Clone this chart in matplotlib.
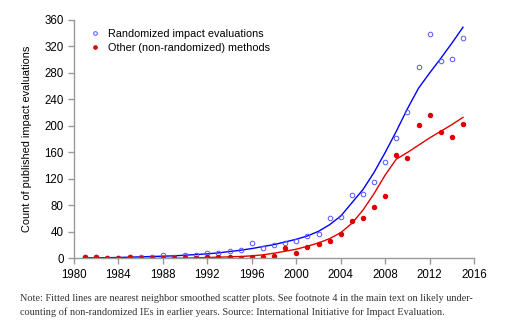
import matplotlib.pyplot as plt
import numpy as np

plt.rcParams['font.family'] = ['Liberation Sans', 'DejaVu Sans']

years = np.arange(1981, 2016)

rand_pts = [2, 2, 1, 1, 2, 3, 3, 5, 3, 5, 5, 8, 9, 12, 13, 23, 16, 21, 24, 27,
            34, 37, 61, 62, 96, 98, 116, 146, 182, 221, 289, 339, 298, 301, 333]
other_pts = [2, 2, 1, 0, 2, 0, 1, 1, 1, 1, 1, 2, 2, 2, 1, 2, 3, 4, 16, 9,
             17, 22, 27, 37, 57, 61, 77, 94, 156, 151, 201, 216, 191, 184, 203]

rand_fit = [1, 1, 1.2, 1.5, 2, 2.5, 3, 3.5, 4, 5, 6, 7, 8.5, 10.5, 12.5, 15, 18, 21,
            25, 29, 34, 41, 51, 64, 84, 104, 130, 160, 192, 226, 257, 280, 302, 325, 349]
other_fit = [0, 0, 0, 0, 0, 0, 0, 0.2, 0.3, 0.5, 1, 1.5, 2, 2.5, 3, 4, 5.5, 8,
             11, 14, 18.5, 23.5, 30, 39, 53, 73, 98, 126, 150, 160, 171, 182, 192, 202, 213]

fig = plt.figure(figsize=(5.12, 3.27), dpi=100)
ax = fig.add_axes([0.1445, 0.2095, 0.7815, 0.7295])

ax.plot(years, rand_fit, color='#0000ff', lw=1.0)
ax.plot(years, other_fit, color='#e00000', lw=1.0)
ax.plot(years, rand_pts, 'o', mfc='none', mec='#5555ff', ms=3.3, mew=0.7,
        label='Randomized impact evaluations', linestyle='none')
ax.plot(years, other_pts, 'o', color='#e00000', ms=2.9,
        label='Other (non-randomized) methods', linestyle='none')

ax.set_xlim(1980, 2016)
ax.set_ylim(0, 360)
ax.set_xticks(np.arange(1980, 2017, 4))
ax.set_yticks(np.arange(0, 361, 40))
for s in ['top', 'right']:
    ax.spines[s].set_visible(False)
for s in ['left', 'bottom']:
    ax.spines[s].set_color('#999999')
    ax.spines[s].set_linewidth(1.0)
ax.tick_params(colors='#999999', labelcolor='black', labelsize=8.3, length=4, width=1)
ax.set_ylabel('Count of published impact evaluations', fontsize=7.9, labelpad=9)

ax.legend(loc='upper left', bbox_to_anchor=(0.028, 0.99), frameon=False, fontsize=7.8,
          handlelength=0.7, handletextpad=0.8, borderaxespad=0.2, labelspacing=0.35,
          markerscale=0.8)

fig.text(0.039, 0.067, 'Note: Fitted lines are nearest neighbor smoothed scatter plots. See footnote 4 in the main text on likely under-\n'
         'counting of non-randomized IEs in earlier years. Source: International Initiative for Impact Evaluation.',
         family=['Liberation Serif', 'DejaVu Serif'], fontsize=7.4, color='#333333', va='center',
         linespacing=1.45)

fig.savefig('out.png', dpi=100)
